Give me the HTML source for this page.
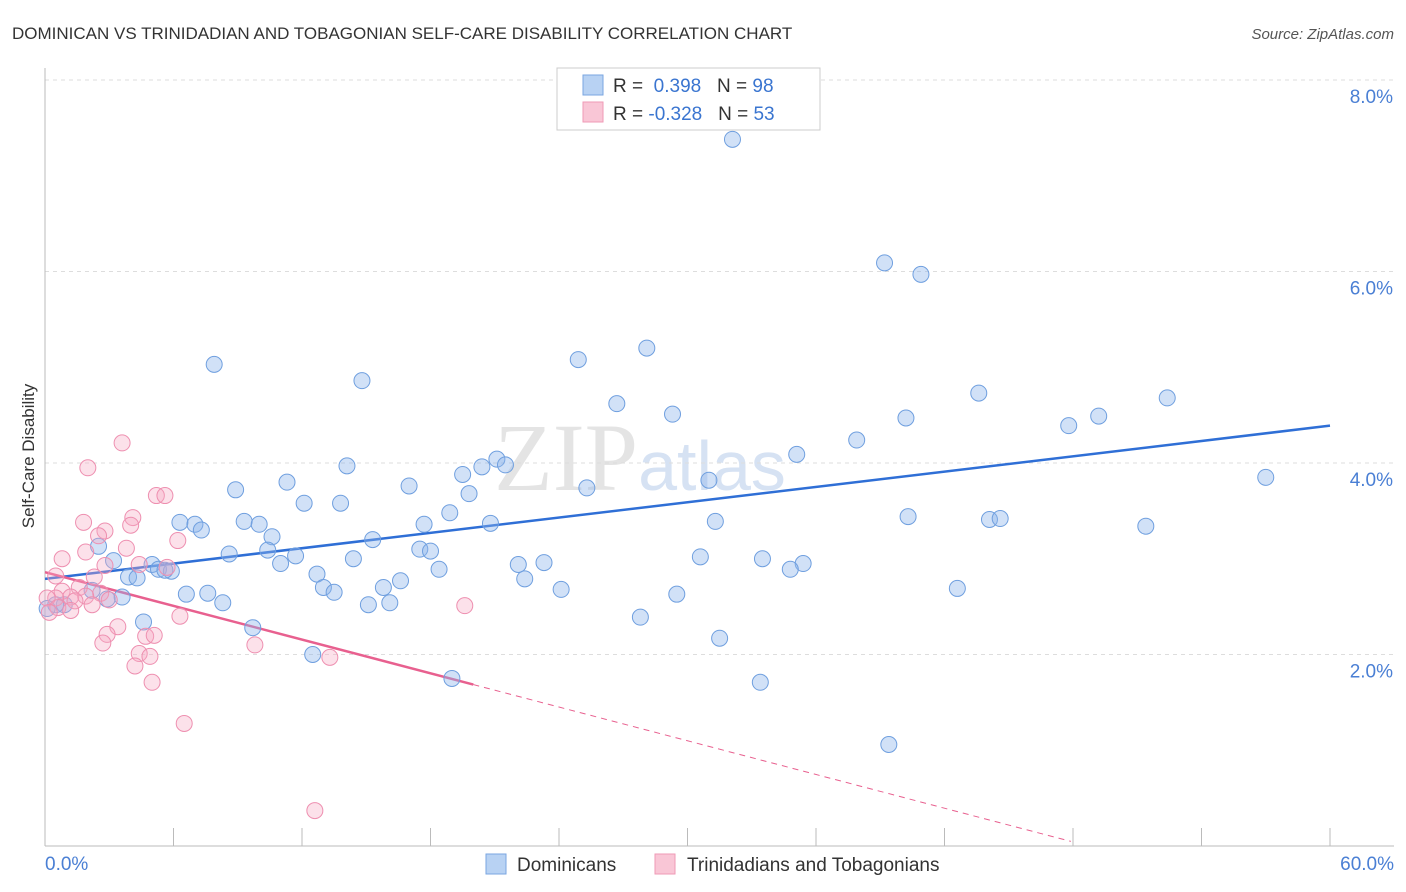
<!DOCTYPE html>
<html><head><meta charset="utf-8">
<style>
body{margin:0;background:#fff;font-family:"Liberation Sans",sans-serif;}
svg{display:block}
</style></head>
<body>
<svg id="chart" width="1406" height="892">
<text x="12" y="39" font-size="17" fill="#333">DOMINICAN VS TRINIDADIAN AND TOBAGONIAN SELF-CARE DISABILITY CORRELATION CHART</text>
<text x="1394" y="39" font-size="15" fill="#555" font-style="italic" text-anchor="end">Source: ZipAtlas.com</text>
<text x="34" y="456" font-size="17" fill="#333" text-anchor="middle" transform="rotate(-90 34 456)">Self-Care Disability</text>
<text x="640" y="490" font-size="96" fill="#e4e4e4" font-family="Liberation Serif,serif" text-anchor="middle">ZIP<tspan fill="#d6e2f3" font-family="Liberation Sans,sans-serif" font-size="70">atlas</tspan></text>
<g id="grid"></g><g id="axes"></g><g id="trend"></g><g id="pts"></g>
<g>
<rect x="557" y="68" width="263" height="62" fill="#fff" stroke="#ccc"/>
<rect x="583" y="75" width="20" height="20" fill="#b8d2f3" stroke="#7aa6e0"/>
<rect x="583" y="102" width="20" height="20" fill="#f9c6d6" stroke="#ef9ab6"/>
<text x="613" y="92" font-size="19" fill="#333">R = <tspan fill="#3a75d0">&#160;0.398</tspan>&#160;&#160;&#160;N = <tspan fill="#3a75d0">98</tspan></text>
<text x="613" y="120" font-size="19" fill="#333">R = <tspan fill="#3a75d0">-0.328</tspan>&#160;&#160;&#160;N = <tspan fill="#3a75d0">53</tspan></text>
</g>
<g>
<rect x="486" y="854" width="20" height="20" fill="#b8d2f3" stroke="#7aa6e0"/>
<text x="517" y="871" font-size="19" fill="#333">Dominicans</text>
<rect x="655" y="854" width="20" height="20" fill="#f9c6d6" stroke="#ef9ab6"/>
<text x="687" y="871" font-size="19" fill="#333">Trinidadians and Tobagonians</text>
</g>
</svg>
<script>
const yTicks=[2,4,6,8];
const xTickLabels=["0.0%","60.0%"];
const blueX=[32.1,39.2,40.9,7.9,24.9,28.1,14.8,26.7,43.6,52.4,29.3,40.2,49.2,47.8,37.9,35.1,21.1,21.5,20.4,14.1,19.5,57.0,31.0,11.3,17.0,8.9,25.3,19.8,12.1,13.8,18.9,40.3,44.1,44.6,31.3,6.3,9.3,20.8,7.0,17.7,10.0,51.4,7.3,10.6,15.3,2.5,17.5,10.4,18.0,8.6,11.7,14.4,30.6,33.5,3.2,11.0,22.1,23.3,35.4,34.8,5.0,5.3,5.9,5.6,18.4,12.7,3.9,4.3,16.6,22.4,13.0,15.8,13.5,24.1,42.6,2.2,6.6,7.6,29.5,3.6,2.9,8.3,16.1,15.1,0.9,0.5,27.8,4.6,9.7,31.5,12.5,19.0,33.4,39.4,0.1];
const blueY=[7.38,6.09,5.97,5.03,5.08,5.20,4.86,4.62,4.73,4.68,4.51,4.47,4.49,4.39,4.24,4.09,4.04,3.98,3.96,3.97,3.88,3.85,3.82,3.80,3.76,3.72,3.74,3.68,3.58,3.58,3.48,3.44,3.41,3.42,3.39,3.38,3.39,3.37,3.36,3.36,3.36,3.34,3.30,3.23,3.20,3.13,3.10,3.09,3.08,3.05,3.03,3.00,3.02,3.00,2.98,2.95,2.94,2.96,2.95,2.89,2.94,2.89,2.87,2.88,2.89,2.84,2.81,2.80,2.77,2.79,2.70,2.70,2.65,2.68,2.69,2.67,2.63,2.64,2.63,2.60,2.58,2.54,2.54,2.52,2.52,2.52,2.39,2.34,2.28,2.17,2.00,1.75,1.71,1.06,2.48];
const pinkX=[3.6,2.0,5.2,5.6,1.8,4.1,4.0,2.8,2.5,6.2,3.8,1.9,0.8,4.4,2.8,5.7,0.5,2.3,1.6,0.8,2.6,1.2,0.5,1.9,1.4,0.1,3.0,2.2,0.6,19.6,1.2,6.3,3.4,2.9,4.7,5.1,2.7,9.8,4.4,4.9,13.3,4.2,5.0,6.5,12.6,0.2];
const pinkY=[4.21,3.95,3.66,3.66,3.38,3.43,3.35,3.29,3.24,3.19,3.11,3.07,3.00,2.94,2.93,2.91,2.82,2.81,2.70,2.66,2.64,2.60,2.59,2.61,2.56,2.59,2.57,2.52,2.49,2.51,2.46,2.40,2.29,2.21,2.19,2.20,2.12,2.10,2.01,1.98,1.97,1.88,1.71,1.28,0.37,2.44];
const blueTrend=[2.79,4.39];
const pinkTrend=[2.86,-0.0587];
const NS="http://www.w3.org/2000/svg";
const X=v=>45+v*(1285/60), Y=v=>846-v*95.75;
function mk(tag,attrs,parent){const e=document.createElementNS(NS,tag);for(const k in attrs)e.setAttribute(k,attrs[k]);document.getElementById(parent).appendChild(e);return e;}
yTicks.forEach(t=>{
 const l=mk('line',{x1:45,x2:1394,y1:Y(t),y2:Y(t),stroke:'#ddd','stroke-dasharray':'4,4'},'grid');
 
 
 const tx=mk('text',{x:1393,y:Y(t)+23,'font-size':19,fill:'#4a7fd4','text-anchor':'end'},'grid');
 tx.textContent=t.toFixed(1)+'%';
 
 
});
mk('line',{x1:45,x2:45,y1:68,y2:846,stroke:'#bbb'},'axes');
mk('line',{x1:45,x2:1394,y1:846,y2:846,stroke:'#bbb'},'axes');
for(let i=0;i<=10;i++){const t=mk('line',{x1:X(i*6),x2:X(i*6),y1:828,y2:846,stroke:'#bbb'},'axes');}
[[0,'start',45],[60,'end',1394]].forEach((d,i)=>{const t=mk('text',{x:d[2],y:870,'font-size':19,fill:'#4a7fd4','text-anchor':d[1]},'axes');t.textContent=xTickLabels[i];});
blueX.forEach((v,i)=>{const c=mk('circle',{cx:X(v),cy:Y(blueY[i]),r:8,fill:'rgba(140,180,235,0.4)',stroke:'#6f9fdf','stroke-width':1},'pts');});
pinkX.forEach((v,i)=>{const c=mk('circle',{cx:X(v),cy:Y(pinkY[i]),r:8,fill:'rgba(245,170,195,0.35)',stroke:'#ee8fb0','stroke-width':1},'pts');});
const bl=mk('line',{x1:X(0),y1:Y(blueTrend[0]),x2:X(60),y2:Y(blueTrend[1]),stroke:'#2f6fd6','stroke-width':2.5},'trend');


const pe=20, pd=47.9;
const pl=mk('line',{x1:X(0),y1:Y(pinkTrend[0]),x2:X(pe),y2:Y(pinkTrend[0]+pinkTrend[1]*pe),stroke:'#e8608f','stroke-width':2.5},'trend');


const pdl=mk('line',{x1:X(pe),y1:Y(pinkTrend[0]+pinkTrend[1]*pe),x2:X(pd),y2:Y(pinkTrend[0]+pinkTrend[1]*pd),stroke:'#e8608f','stroke-width':1,'stroke-dasharray':'6,5'},'trend');


</script>
</body></html>
